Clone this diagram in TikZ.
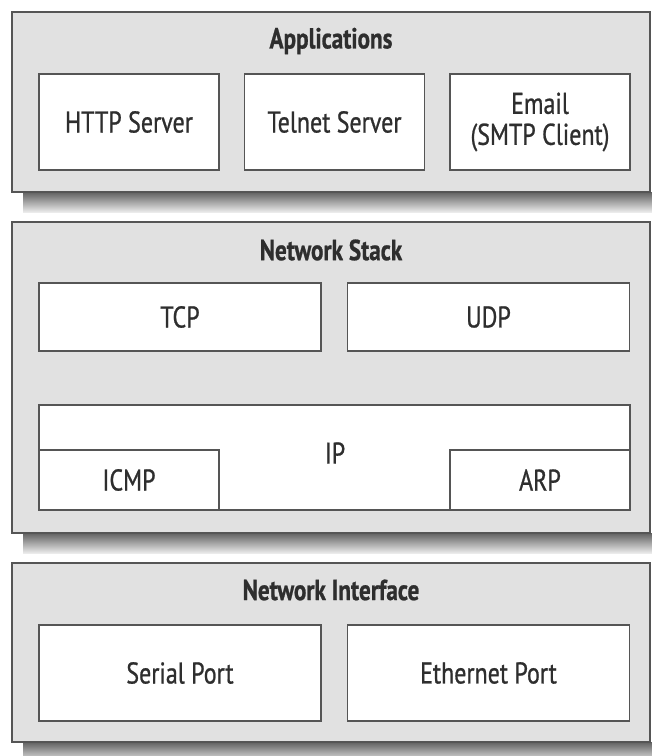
\documentclass[tikz,border=0pt]{standalone}
\usepackage{fontspec}
\setmainfont[FakeStretch=0.8,FakeBold=0.8]{PT Sans}
\usepackage{tikz}

\definecolor{layerfill}{HTML}{E1E1E1}
\definecolor{edgegray}{HTML}{555555}
\definecolor{textgray}{HTML}{2E2E2E}

\begin{document}
\begin{tikzpicture}[x=1pt,y=-1pt]
                \tikzstyle{layer}=[draw=edgegray,fill=layerfill,line width=1.6pt,inner sep=0pt]
                \tikzstyle{unit}=[draw=edgegray,fill=white,line width=1.6pt,inner sep=0pt,text=textgray,
                        font=\fontsize{30}{31}\selectfont,align=center]
                \tikzstyle{title}=[text=textgray,font=\fontsize{29}{31}\selectfont\bfseries]
                \tikzstyle{shadow}=[top color=black!62,bottom color=black!8,draw=none]
                \useasboundingbox (0,0) rectangle (652,756);

                % shadows under the three layers
                \foreach \top in {192, 533, 742}
                        \shade[shadow] (23,\top) rectangle (652,\top+20);

                % applications
                \node[layer,minimum width=638pt,minimum height=180pt] (apps) at (331,102) {};
                \node[title] (apps-t) at (331,41) {Applications};
                \foreach \name/\x/\txt in {http/129/HTTP Server, telnet/334.5/Telnet Server, email/540/Email\\(SMTP Client)}
                        \node[unit,minimum width=180pt,minimum height=96pt] (\name) at (\x,122) {\txt};

                % network stack
                \node[layer,minimum width=638pt,minimum height=311pt] (stack) at (331,377.5) {};
                \node[title] (stack-t) at (331,250) {Network Stack};
                \foreach \name/\x/\txt in {tcp/180/TCP, udp/488.5/UDP}
                        \node[unit,minimum width=282pt,minimum height=68pt] (\name) at (\x,317) {\txt};
                \node[unit,minimum width=591pt,minimum height=105pt] (ip) at (334.5,457.5) {};
                \node[text=textgray,font=\fontsize{30}{31}\selectfont] (ip-t) at (335,453) {IP};
                \foreach \name/\x/\txt in {icmp/129/ICMP, arp/540/ARP}
                        \node[unit,minimum width=180pt,minimum height=60pt] (\name) at (\x,480) {\txt};

                % network interface
                \node[layer,minimum width=638pt,minimum height=179pt] (iface) at (331,652.5) {};
                \node[title] (iface-t) at (331,590) {Network Interface};
                \foreach \name/\x/\txt in {serial/180/Serial Port, ether/488.5/Ethernet Port}
                        \node[unit,minimum width=282pt,minimum height=96pt] (\name) at (\x,673) {\txt};
\end{tikzpicture}
\end{document}
